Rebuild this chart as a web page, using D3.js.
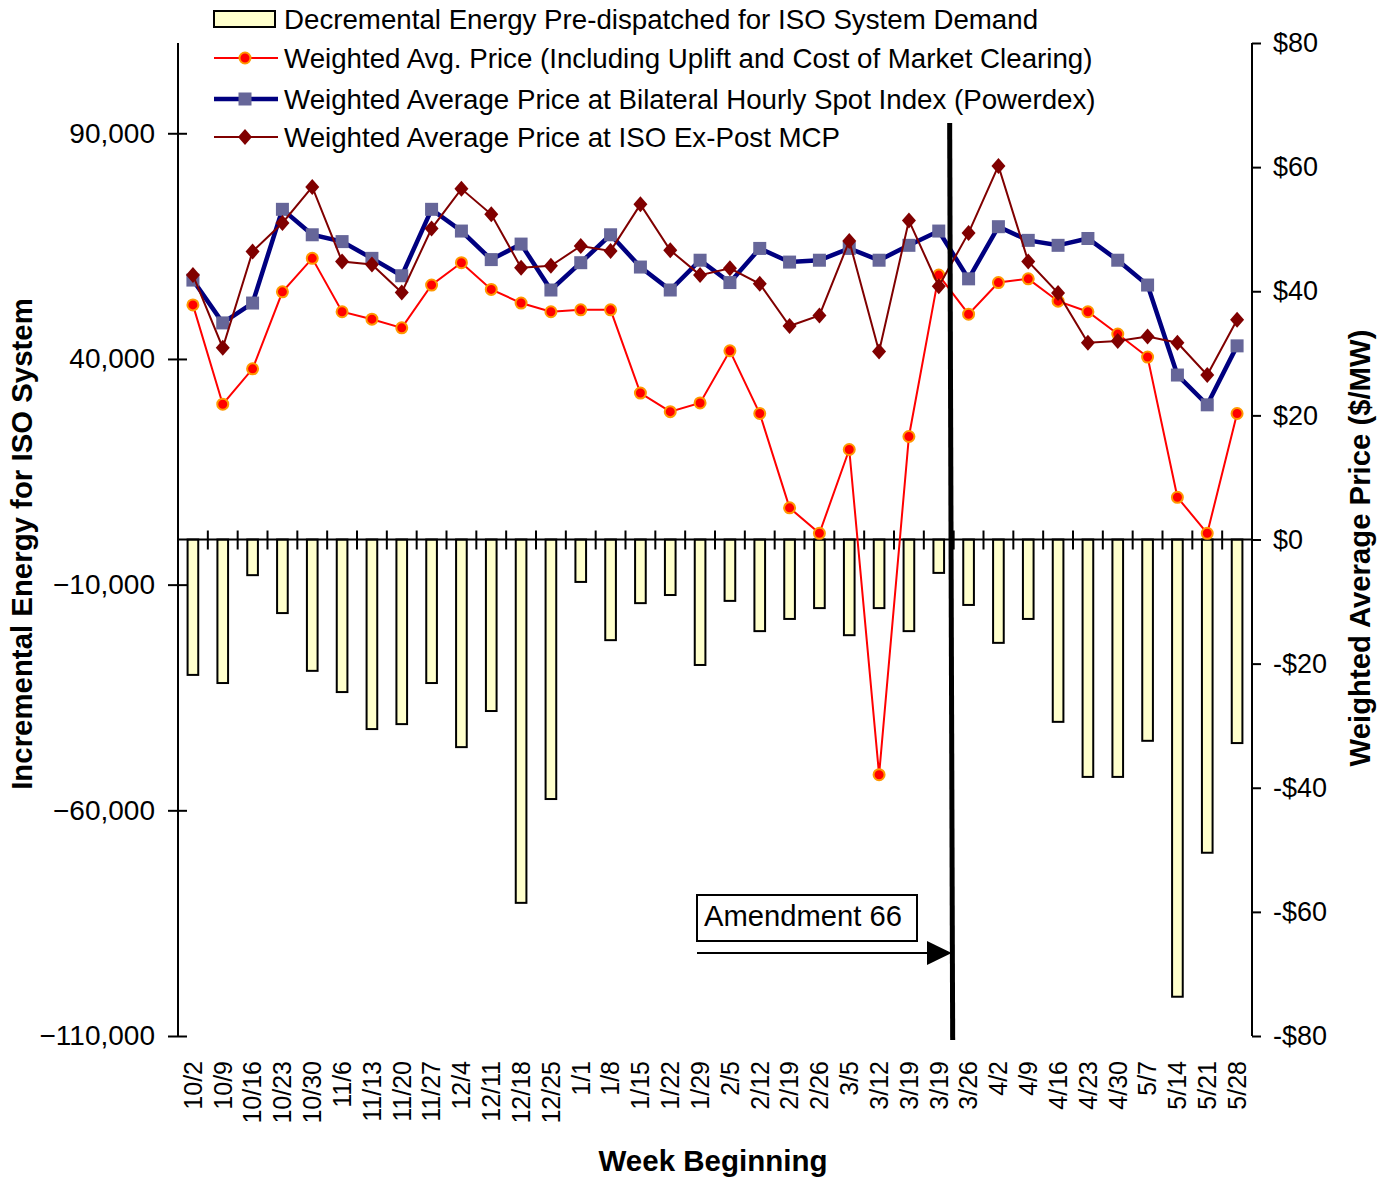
<!DOCTYPE html>
<html>
<head>
<meta charset="utf-8">
<script src="https://cdn.jsdelivr.net/npm/d3@7"></script>
<style>
  body { margin: 0; background: #fff; }
  svg { display: block; font-family: Arial, "Liberation Sans", sans-serif; }
</style>
</head>
<body>
<svg id="chart" width="1385" height="1180"></svg>
<script>
"use strict";

// week labels (3/19 really appears twice in the original)
const weeks = ["10/2","10/9","10/16","10/23","10/30","11/6","11/13","11/20","11/27","12/4",
  "12/11","12/18","12/25","1/1","1/8","1/15","1/22","1/29","2/5","2/12","2/19","2/26",
  "3/5","3/12","3/19","3/19","3/26","4/2","4/9","4/16","4/23","4/30","5/7","5/14","5/21","5/28"];

// MWh, left axis
const decEnergy = [-30000,-31800,-7900,-16300,-29100,-33800,-42000,-40900,-31800,-46000,
  -38000,-80500,-57500,-9400,-22300,-14100,-12300,-27800,-13600,-20300,-17600,-15200,
  -21200,-15200,-20300,-7400,-14500,-22900,-17600,-40400,-52600,-52600,-44600,-101300,-69400,-45100];

// $/MW, right axis
const avgPrice = [37.8,21.8,27.5,39.9,45.3,36.7,35.5,34.1,41.0,44.6,40.3,38.1,36.7,37.0,37.0,
  23.6,20.6,22.0,30.4,20.3,5.1,1.0,14.5,-37.9,16.6,42.6,36.3,41.4,42.0,38.4,36.7,33.1,29.4,6.8,1.0,20.3];
const powerdexPrice = [41.8,34.9,38.1,53.2,49.1,48.0,45.3,42.5,53.2,49.7,45.1,47.6,40.2,44.6,49.1,
  43.9,40.2,45.0,41.4,46.9,44.7,45.0,46.9,45.0,47.4,49.7,42.0,50.4,48.2,47.4,48.5,45.0,41.0,26.5,21.7,31.2];
const mcpPrice = [42.6,30.9,46.4,51.0,56.8,44.8,44.3,39.8,50.1,56.5,52.4,43.8,44.1,47.3,46.5,
  54.0,46.6,42.6,43.7,41.2,34.4,36.1,48.1,30.3,51.4,40.8,49.4,60.2,44.8,39.7,31.7,32.0,32.7,31.7,26.5,35.4];

const legendLabels = [
  "Decremental Energy Pre-dispatched for ISO System Demand",
  "Weighted Avg. Price (Including Uplift and Cost of Market Clearing)",
  "Weighted Average Price at Bilateral Hourly Spot Index (Powerdex)",
  "Weighted Average Price at ISO Ex-Post MCP"
];
const leftTicks = [90000, 40000, -10000, -60000, -110000];
const rightTicks = [80, 60, 40, 20, 0, -20, -40, -60, -80];

const colors = {
  bar: "#FFFFCC", red: "#FF0000", orange: "#FF9900",
  navy: "#000080", square: "#666699", maroon: "#800000"
};

const plot = { left: 178, right: 1252, top: 43, bottom: 1036 };
const svg = d3.select("#chart");

const x = d3.scaleBand().domain(d3.range(weeks.length)).range([plot.left, plot.right]);
const cx = (i) => x(i) + x.bandwidth() / 2;
const yLeft = d3.scaleLinear().domain([-110000, 110000]).range([plot.bottom, plot.top]);
const yRight = d3.scaleLinear().domain([-80, 80]).range([plot.bottom, plot.top]);
const y0 = yLeft(0);

// bars
const bw = x.bandwidth() / 2.8;
svg.append("g")
  .selectAll("rect")
  .data(decEnergy)
  .join("rect")
  .attr("x", (d, i) => cx(i) - bw / 2)
  .attr("y", (d) => Math.min(y0, yLeft(d)))
  .attr("width", bw)
  .attr("height", (d) => Math.abs(yLeft(d) - y0))
  .attr("fill", colors.bar)
  .attr("stroke", "#000")
  .attr("stroke-width", 2);

// left axis
const gl = svg.append("g")
  .attr("transform", `translate(${plot.left},0)`)
  .call(d3.axisLeft(yLeft).tickValues(leftTicks).tickFormat(d3.format(",")).tickSize(10));
gl.select(".domain").attr("stroke-width", 2).attr("d", `M0,${plot.top}V${plot.bottom}`);
gl.selectAll(".tick line").attr("x1", 9).attr("x2", -10).attr("stroke-width", 2);
gl.selectAll(".tick text").attr("x", -23).attr("font-size", 28)
  .attr("font-family", "Arial, 'Liberation Sans', sans-serif").attr("fill", "#000");

// right axis
const gr = svg.append("g")
  .attr("transform", `translate(${plot.right},0)`)
  .call(d3.axisRight(yRight).tickValues(rightTicks).tickSize(9)
    .tickFormat((d) => (d < 0 ? "-$" + -d : "$" + d)));
gr.select(".domain").attr("stroke-width", 2).attr("d", `M0,${plot.top}V${plot.bottom}`);
gr.selectAll(".tick line").attr("stroke-width", 2);
gr.selectAll(".tick text").attr("x", 21).attr("font-size", 27)
  .attr("font-family", "Arial, 'Liberation Sans', sans-serif").attr("fill", "#000");

// category axis along zero
const gc = svg.append("g");
gc.append("line")
  .attr("x1", plot.left).attr("x2", plot.right)
  .attr("y1", y0).attr("y2", y0)
  .attr("stroke", "#000").attr("stroke-width", 2);
gc.selectAll("line.tk")
  .data(d3.range(1, weeks.length))
  .join("line")
  .attr("class", "tk")
  .attr("x1", (i) => x(i)).attr("x2", (i) => x(i))
  .attr("y1", y0 - 9).attr("y2", y0 + 10)
  .attr("stroke", "#000").attr("stroke-width", 2);
svg.append("g")
  .selectAll("text")
  .data(weeks)
  .join("text")
  .attr("transform", (d, i) => `translate(${cx(i)},1061) rotate(-90)`)
  .attr("text-anchor", "end")
  .attr("dy", "0.35em")
  .attr("font-size", 25)
  .text((d) => d);

// price lines
const line = d3.line().x((d, i) => cx(i)).y((d) => yRight(d));

svg.append("path").datum(avgPrice)
  .attr("d", line).attr("fill", "none")
  .attr("stroke", colors.red).attr("stroke-width", 2);
svg.append("g").selectAll("circle").data(avgPrice).join("circle")
  .attr("cx", (d, i) => cx(i)).attr("cy", (d) => yRight(d)).attr("r", 5.5)
  .attr("fill", colors.red).attr("stroke", colors.orange).attr("stroke-width", 2);

svg.append("path").datum(powerdexPrice)
  .attr("d", line).attr("fill", "none")
  .attr("stroke", colors.navy).attr("stroke-width", 4.5);
svg.append("g").selectAll("rect").data(powerdexPrice).join("rect")
  .attr("x", (d, i) => cx(i) - 6.5).attr("y", (d) => yRight(d) - 6.5)
  .attr("width", 13).attr("height", 13).attr("fill", colors.square);

const diamond = "M0,-8L7,0L0,8L-7,0Z";
svg.append("path").datum(mcpPrice)
  .attr("d", line).attr("fill", "none")
  .attr("stroke", colors.maroon).attr("stroke-width", 2);
svg.append("g").selectAll("path").data(mcpPrice).join("path")
  .attr("transform", (d, i) => `translate(${cx(i)},${yRight(d)})`)
  .attr("d", diamond).attr("fill", colors.maroon);

// legend
const legendRows = [19, 58, 99, 137];
const lg = svg.append("g");
lg.append("rect").attr("x", 214).attr("y", legendRows[0] - 8).attr("width", 61).attr("height", 16)
  .attr("fill", colors.bar).attr("stroke", "#000").attr("stroke-width", 2);
lg.append("line").attr("x1", 214).attr("x2", 278).attr("y1", legendRows[1]).attr("y2", legendRows[1])
  .attr("stroke", colors.red).attr("stroke-width", 2);
lg.append("circle").attr("cx", 245).attr("cy", legendRows[1]).attr("r", 5.5)
  .attr("fill", colors.red).attr("stroke", colors.orange).attr("stroke-width", 2);
lg.append("line").attr("x1", 214).attr("x2", 278).attr("y1", legendRows[2]).attr("y2", legendRows[2])
  .attr("stroke", colors.navy).attr("stroke-width", 4.5);
lg.append("rect").attr("x", 238.5).attr("y", legendRows[2] - 6.5).attr("width", 13).attr("height", 13)
  .attr("fill", colors.square);
lg.append("line").attr("x1", 214).attr("x2", 278).attr("y1", legendRows[3]).attr("y2", legendRows[3])
  .attr("stroke", colors.maroon).attr("stroke-width", 2);
lg.append("path").attr("transform", `translate(245,${legendRows[3]})`).attr("d", diamond)
  .attr("fill", colors.maroon);
lg.selectAll("text").data(legendLabels).join("text")
  .attr("x", 284).attr("y", (d, i) => legendRows[i]).attr("dy", "0.35em")
  .attr("font-size", 27.7).text((d) => d);

// axis titles
svg.append("text").attr("x", 713).attr("y", 1171).attr("text-anchor", "middle")
  .attr("font-size", 29.5).attr("font-weight", "bold").text("Week Beginning");
svg.append("text").attr("transform", "translate(32,544) rotate(-90)").attr("text-anchor", "middle")
  .attr("font-size", 29.4).attr("font-weight", "bold").text("Incremental Energy for ISO System");
svg.append("text").attr("transform", "translate(1370,548) rotate(-90)").attr("text-anchor", "middle")
  .attr("font-size", 29.3).attr("font-weight", "bold").text("Weighted Average Price ($/MW)");

// Amendment 66 marker
const amendX = x(26);
svg.append("line")
  .attr("x1", amendX - 4).attr("y1", 123).attr("x2", amendX - 1).attr("y2", 1040)
  .attr("stroke", "#000").attr("stroke-width", 5);
svg.append("rect").attr("x", 697).attr("y", 895).attr("width", 220).attr("height", 46)
  .attr("fill", "#fff").attr("stroke", "#000").attr("stroke-width", 2);
svg.append("text").attr("x", 704).attr("y", 926).attr("font-size", 29.2).text("Amendment 66");
svg.append("line").attr("x1", 697).attr("x2", 928).attr("y1", 953).attr("y2", 953)
  .attr("stroke", "#000").attr("stroke-width", 2);
svg.append("path").attr("d", `M927,941L${amendX - 2},953L927,965Z`).attr("fill", "#000");
</script>
</body>
</html>
